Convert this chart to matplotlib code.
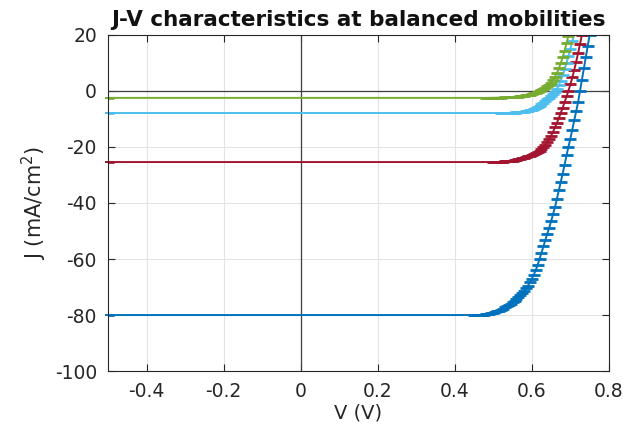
import matplotlib

matplotlib.use("Agg")
import matplotlib.pyplot as plt

# J-V curves (V in volts, J in mA/cm^2)
v_blue = [-0.5, 0.450, 0.455, 0.460, 0.465, 0.470, 0.475, 0.480, 0.485, 0.490, 0.495,
          0.500, 0.505, 0.510, 0.515, 0.520, 0.525, 0.530, 0.535, 0.540, 0.545,
          0.550, 0.555, 0.560, 0.565, 0.570, 0.575, 0.580, 0.585, 0.590, 0.595,
          0.600, 0.605, 0.610, 0.615, 0.620, 0.625, 0.630, 0.635, 0.640, 0.645,
          0.650, 0.655, 0.660, 0.665, 0.670, 0.675, 0.680, 0.685, 0.690, 0.695,
          0.700, 0.705, 0.710, 0.715, 0.720, 0.725, 0.730, 0.735, 0.740, 0.745,
          0.750, 0.755]
j_blue = [-80, -80.0, -80.0, -80.0, -79.95, -79.9, -79.85, -79.8, -79.7, -79.6, -79.4,
          -79.2, -79.0, -78.7, -78.4, -78.1, -77.7, -77.3, -76.9, -76.4, -76.0,
          -75.5, -75.0, -74.4, -73.7, -73.0, -72.3, -71.5, -70.5, -69.5, -68.3,
          -67.0, -65.6, -64.0, -62.1, -60.0, -57.8, -55.5, -53.2, -51.0, -48.8,
          -46.5, -44.0, -41.5, -38.5, -35.5, -32.5, -29.5, -26.3, -23.0, -20.0,
          -17.0, -13.8, -10.5, -7.3, -4.0, 0.0, 4.0, 8.0, 12.0, 16.0,
          20.0, 24.0]

v_red = [-0.5, 0.500, 0.505, 0.510, 0.515, 0.520, 0.525, 0.530, 0.535, 0.540, 0.545,
         0.550, 0.555, 0.560, 0.565, 0.570, 0.575, 0.580, 0.585, 0.590, 0.595,
         0.600, 0.605, 0.610, 0.615, 0.620, 0.625, 0.630, 0.635, 0.640, 0.645,
         0.650, 0.655, 0.660, 0.665, 0.670, 0.675, 0.680, 0.685, 0.690, 0.695,
         0.700, 0.705, 0.710, 0.715, 0.720, 0.725, 0.730, 0.735]
j_red = [-25.4, -25.4, -25.4, -25.4, -25.35, -25.3, -25.25, -25.2, -25.15, -25.1, -25.0,
         -24.9, -24.75, -24.6, -24.45, -24.3, -24.1, -23.9, -23.65, -23.4, -23.15,
         -22.9, -22.55, -22.2, -21.8, -21.3, -20.7, -20.0, -19.2, -18.3, -17.2,
         -16.0, -14.6, -13.0, -11.4, -9.7, -7.9, -6.0, -4.0, -2.0, 0.1,
         2.3, 4.8, 7.5, 10.4, 13.5, 16.7, 20.0, 23.0]

v_cyan = [-0.5, 0.520, 0.525, 0.530, 0.535, 0.540, 0.545, 0.550, 0.555, 0.560, 0.565,
          0.570, 0.575, 0.580, 0.585, 0.590, 0.595, 0.600, 0.605, 0.610, 0.615,
          0.620, 0.625, 0.630, 0.635, 0.640, 0.645, 0.650, 0.655, 0.660, 0.665,
          0.670, 0.675, 0.680, 0.685, 0.690, 0.695, 0.700, 0.705, 0.710, 0.715]
j_cyan = [-7.9, -7.9, -7.9, -7.9, -7.88, -7.85, -7.83, -7.8, -7.75, -7.7, -7.65,
          -7.6, -7.5, -7.4, -7.25, -7.1, -6.9, -6.7, -6.4, -6.1, -5.7,
          -5.3, -4.8, -4.2, -3.6, -3.0, -2.4, -1.8, -1.1, -0.3, 0.8,
          2.0, 3.7, 5.5, 7.7, 10.0, 12.5, 15.0, 17.7, 20.5, 23.0]

v_green = [-0.5, 0.480, 0.490, 0.500, 0.510, 0.520, 0.530, 0.540, 0.545, 0.550, 0.555,
           0.560, 0.565, 0.570, 0.575, 0.580, 0.585, 0.590, 0.595, 0.600, 0.605,
           0.610, 0.615, 0.620, 0.625, 0.630, 0.635, 0.640, 0.645, 0.650, 0.655,
           0.660, 0.665, 0.670, 0.675, 0.680, 0.685, 0.690, 0.695, 0.700]
j_green = [-2.5, -2.5, -2.48, -2.45, -2.43, -2.4, -2.35, -2.3, -2.25, -2.2, -2.15,
           -2.1, -2.02, -1.95, -1.85, -1.75, -1.6, -1.45, -1.3, -1.1, -0.9,
           -0.65, -0.4, -0.1, 0.2, 0.6, 1.1, 1.6, 2.2, 2.9, 3.8,
           5.0, 6.4, 8.0, 9.9, 12.0, 14.4, 17.0, 19.7, 22.5]

fig = plt.figure(figsize=(6.43, 4.30), dpi=100)
ax = fig.add_axes([0.168, 0.137, 0.779, 0.782])

series = [
    (v_blue, j_blue, "#0072BD"),
    (v_red, j_red, "#A2142F"),
    (v_cyan, j_cyan, "#4DBEEE"),
    (v_green, j_green, "#77AC30"),
]
for v, j, c in series:
    ax.plot(v, j, color=c, lw=1.4, marker="_", ms=8, mew=2.0)
    # left end marker sticks out past the axis, as in the original
    ax.plot(v[:1], j[:1], color=c, lw=0, marker="_", ms=5, mew=1.4, clip_on=False)

ax.axhline(0, color="#404040", lw=0.9, zorder=1)
ax.axvline(0, color="#404040", lw=0.9, zorder=1)

ax.set_xlim(-0.5, 0.8)
ax.set_ylim(-100, 20)
ax.set_xticks([-0.4, -0.2, 0, 0.2, 0.4, 0.6, 0.8])
ax.set_xticklabels(["-0.4", "-0.2", "0", "0.2", "0.4", "0.6", "0.8"])
ax.set_yticks([-100, -80, -60, -40, -20, 0, 20])
ax.set_yticklabels(["-100", "-80", "-60", "-40", "-20", "0", "20"])
ax.grid(True, color="#e3e3e3", lw=0.8)
ax.set_axisbelow(True)
ax.tick_params(direction="in", length=5, width=0.8, top=True, right=True,
               labelsize=13.5, colors="#262626", pad=8)
for s in ax.spines.values():
    s.set_color("#262626")
    s.set_linewidth(0.8)

ax.set_xlabel("V (V)", fontsize=14, color="#262626", labelpad=2)
ax.set_ylabel("J (mA/cm$^2$)", fontsize=15, color="#262626", labelpad=4)
ax.set_title("J-V characteristics at balanced mobilities", fontsize=15.5,
             fontweight="bold", color="#111111", pad=6)

fig.savefig("out.png", dpi=100)
